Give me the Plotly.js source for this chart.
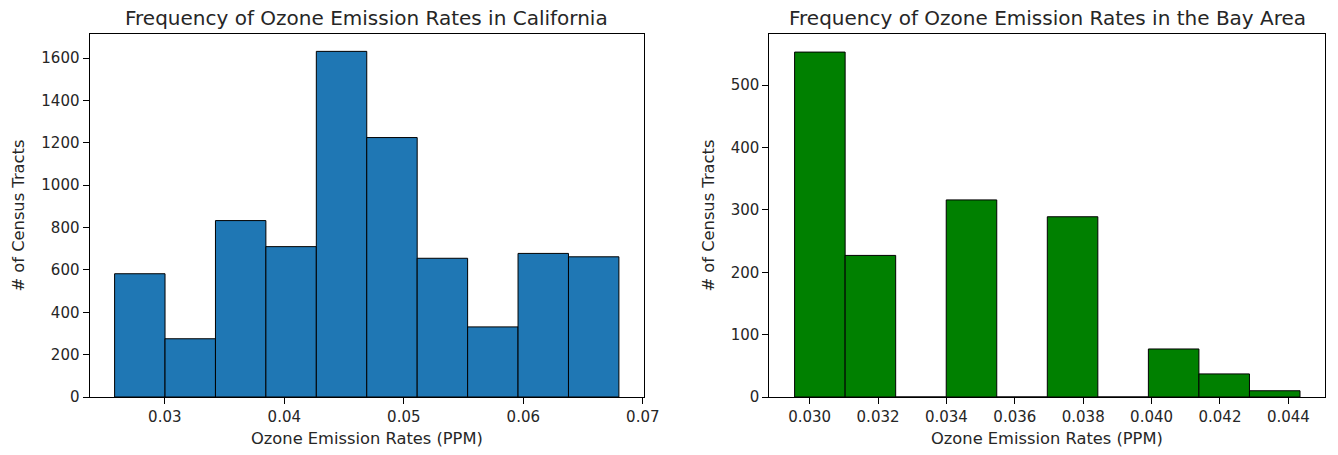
<!DOCTYPE html>
<html>
<head>
<meta charset="utf-8">
<script src="https://cdn.plot.ly/plotly-3.0.1.min.js"></script>
<style>
  html, body { margin: 0; padding: 0; background: #fff; }
  #chart { width: 1338px; height: 455px; }
</style>
</head>
<body>
<div id="chart"></div>
<script>
// ---- Data ----
// California histogram: bin edges (PPM) and counts
const caBinEdges = [0.0258, 0.03002, 0.03424, 0.03846, 0.04268, 0.0469, 0.05112, 0.05534, 0.05956, 0.06378, 0.068];
const caCounts = [582, 275, 833, 710, 1632, 1225, 655, 331, 678, 662];

// Bay Area histogram: bin edges (PPM) and counts
const bayBinEdges = [0.02956, 0.031038, 0.032516, 0.033994, 0.035472, 0.03695, 0.038428, 0.039906, 0.041384, 0.042862, 0.04434];
const bayCounts = [553, 227, 0, 316, 0, 289, 0, 77, 37, 10];

// Labels
const titleCA = "Frequency of Ozone Emission Rates in California";
const titleBay = "Frequency of Ozone Emission Rates in the Bay Area";
const xLabel = "Ozone Emission Rates (PPM)";
const yLabel = "# of Census Tracts";

// ---- Helpers ----
function centers(edges) { const c = []; for (let i = 0; i < edges.length - 1; i++) c.push((edges[i] + edges[i + 1]) / 2); return c; }
function widths(edges) { const w = []; for (let i = 0; i < edges.length - 1; i++) w.push(edges[i + 1] - edges[i]); return w; }

const W = 1338, H = 455;
const px = v => v / W;
const py = v => (H - v) / H;

const textColor = '#262626';
const font = 'DejaVu Sans, sans-serif';

const traces = [
  {
    type: 'bar', x: centers(caBinEdges), y: caCounts, width: widths(caBinEdges),
    marker: { color: '#1f77b4', line: { color: '#000', width: 1 } },
    xaxis: 'x', yaxis: 'y', hoverinfo: 'x+y', showlegend: false
  },
  {
    type: 'bar', x: centers(bayBinEdges), y: bayCounts, width: widths(bayBinEdges),
    marker: { color: '#008000', line: { color: '#000', width: 1 } },
    xaxis: 'x2', yaxis: 'y2', hoverinfo: 'x+y', showlegend: false
  }
];

const axisCommon = {
  showline: true, mirror: true, linecolor: '#000', linewidth: 1,
  ticks: 'outside', ticklen: 6, tickwidth: 1, tickcolor: '#000',
  showgrid: false, zeroline: false,
  tickfont: { family: font, size: 15, color: textColor }
};

const layout = {
  width: W, height: H,
  margin: { l: 0, r: 0, t: 0, b: 0 },
  paper_bgcolor: '#fff', plot_bgcolor: '#fff',
  bargap: 0,
  xaxis: Object.assign({}, axisCommon, {
    domain: [px(89.5), px(644)], range: [0.0237, 0.0701],
    tickmode: 'linear', tick0: 0.03, dtick: 0.01, tickformat: '.2f', anchor: 'y'
  }),
  yaxis: Object.assign({}, axisCommon, {
    domain: [py(397), py(34)], range: [0, 1714],
    tickmode: 'linear', tick0: 0, dtick: 200, anchor: 'x'
  }),
  xaxis2: Object.assign({}, axisCommon, {
    domain: [px(769.3), px(1325.3)], range: [0.02882, 0.04508],
    tickmode: 'linear', tick0: 0.030, dtick: 0.002, tickformat: '.3f', anchor: 'y2'
  }),
  yaxis2: Object.assign({}, axisCommon, {
    domain: [py(397), py(34)], range: [0, 582],
    tickmode: 'linear', tick0: 0, dtick: 100, anchor: 'x2'
  }),
  annotations: [
    { text: titleCA, xref: 'paper', yref: 'paper', x: px(366.75), y: py(18), xanchor: 'center', yanchor: 'middle', showarrow: false, font: { family: font, size: 20, color: textColor } },
    { text: titleBay, xref: 'paper', yref: 'paper', x: px(1047.3), y: py(18), xanchor: 'center', yanchor: 'middle', showarrow: false, font: { family: font, size: 20, color: textColor } },
    { text: xLabel, xref: 'paper', yref: 'paper', x: px(366.75), y: py(438), xanchor: 'center', yanchor: 'middle', showarrow: false, font: { family: font, size: 16.3, color: textColor } },
    { text: xLabel, xref: 'paper', yref: 'paper', x: px(1047.3), y: py(438), xanchor: 'center', yanchor: 'middle', showarrow: false, font: { family: font, size: 16.3, color: textColor } },
    { text: yLabel, xref: 'paper', yref: 'paper', x: px(18), y: py(215.5), xanchor: 'center', yanchor: 'middle', textangle: -90, showarrow: false, font: { family: font, size: 16.3, color: textColor } },
    { text: yLabel, xref: 'paper', yref: 'paper', x: px(708), y: py(215.5), xanchor: 'center', yanchor: 'middle', textangle: -90, showarrow: false, font: { family: font, size: 16.3, color: textColor } }
  ]
};

Plotly.newPlot('chart', traces, layout, { displayModeBar: false, staticPlot: true });
</script>
</body>
</html>
